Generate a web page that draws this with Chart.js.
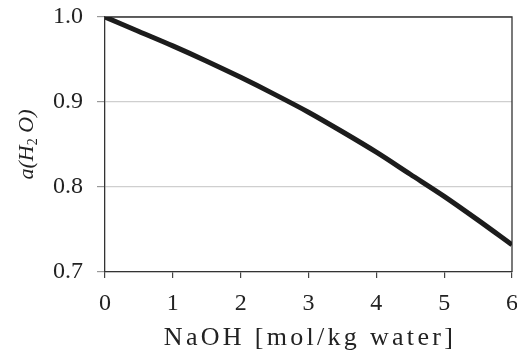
<!DOCTYPE html>
<html>
<head>
<meta charset="utf-8">
<script src="https://cdn.jsdelivr.net/npm/chart.js@4"></script>
<style>
  html, body { margin: 0; padding: 0; background: #fff; }
  #wrap { width: 517px; height: 356px; }
</style>
</head>
<body>
<div id="wrap"><canvas id="c" width="517" height="356"></canvas></div>
<script>
// Water activity of aqueous NaOH versus molality
const naohMolality = [0, 0.5, 1, 1.5, 2, 2.5, 3, 3.5, 4, 4.5, 5, 5.5, 6];
const waterActivity = [1.000, 0.983, 0.966, 0.948, 0.929, 0.909, 0.888, 0.865, 0.841, 0.815, 0.789, 0.761, 0.732];
const xTicks = [0, 1, 2, 3, 4, 5, 6];
const yTicks = [0.7, 0.8, 0.9, 1.0];
const xTitle = 'NaOH [mol/kg water]';

const serif = '"Liberation Serif", "Times New Roman", serif';
const ink = '#222';

// Closes the plot box along the top and right edges
const frame = {
  id: 'frame',
  beforeDatasetsDraw(chart) {
    const { ctx, chartArea: a } = chart;
    ctx.save();
    ctx.strokeStyle = '#333';
    ctx.lineWidth = 1.3;
    ctx.beginPath();
    ctx.moveTo(a.left, a.top);
    ctx.lineTo(a.right, a.top);
    ctx.lineTo(a.right, a.bottom);
    ctx.stroke();
    ctx.restore();
  }
};

// Axis titles: spaced x title and an italic y title with a subscript
const titles = {
  id: 'titles',
  afterDraw(chart) {
    const { ctx, chartArea: a } = chart;
    ctx.save();
    ctx.fillStyle = ink;
    ctx.textBaseline = 'alphabetic';
    ctx.font = '26px ' + serif;
    ctx.letterSpacing = '3.3px';
    ctx.textAlign = 'center';
    ctx.fillText(xTitle, (a.left + a.right) / 2 + 1.5, 345);
    ctx.letterSpacing = '0px';

    ctx.translate(33, (a.top + a.bottom) / 2);
    ctx.rotate(-Math.PI / 2);
    ctx.textAlign = 'left';
    const main = 'italic 22px ' + serif;
    const sub = '14px ' + serif;
    const parts = [
      { t: 'a(H', f: main, dy: 0 },
      { t: '2', f: sub, dy: 4 },
      { t: ' O)', f: main, dy: 0 }
    ];
    let total = 0;
    parts.forEach(p => { ctx.font = p.f; p.w = ctx.measureText(p.t).width; total += p.w; });
    let x = -total / 2;
    parts.forEach(p => { ctx.font = p.f; ctx.fillText(p.t, x, p.dy); x += p.w; });
    ctx.restore();
  }
};

new Chart(document.getElementById('c'), {
  type: 'line',
  data: {
    datasets: [{
      data: naohMolality.map((m, i) => ({ x: m, y: waterActivity[i] })),
      borderColor: '#1c1c1c',
      borderWidth: 5,
      pointRadius: 0,
      cubicInterpolationMode: 'monotone',
      fill: false
    }]
  },
  options: {
    responsive: false,
    animation: false,
    events: [],
    layout: { padding: { top: 17, right: 5, left: 0, bottom: 0 } },
    plugins: { legend: { display: false }, tooltip: { enabled: false } },
    scales: {
      x: {
        type: 'linear',
        min: xTicks[0],
        max: xTicks[xTicks.length - 1],
        afterBuildTicks(scale) { scale.ticks = xTicks.map(v => ({ value: v })); },
        afterFit(scale) { scale.height = 84; scale.paddingLeft = 0; scale.paddingRight = 0; },
        grid: { drawOnChartArea: false, tickLength: 6, tickColor: '#444', lineWidth: 1.2 },
        border: { color: '#333', width: 1.3 },
        ticks: { color: ink, font: { family: serif, size: 24 }, padding: 11, maxRotation: 0 }
      },
      y: {
        min: yTicks[0],
        max: yTicks[yTicks.length - 1],
        afterBuildTicks(scale) { scale.ticks = yTicks.map(v => ({ value: v })); },
        afterFit(scale) { scale.width = 105; scale.paddingTop = 0; scale.paddingBottom = 0; },
        grid: { color: '#cfcfcf', lineWidth: 1.2, tickLength: 8, tickColor: '#999' },
        border: { color: '#333', width: 1.3 },
        ticks: {
          color: ink,
          font: { family: serif, size: 24 },
          padding: 14,
          callback: v => Number(v).toFixed(1)
        }
      }
    }
  },
  plugins: [frame, titles]
});
</script>
</body>
</html>
